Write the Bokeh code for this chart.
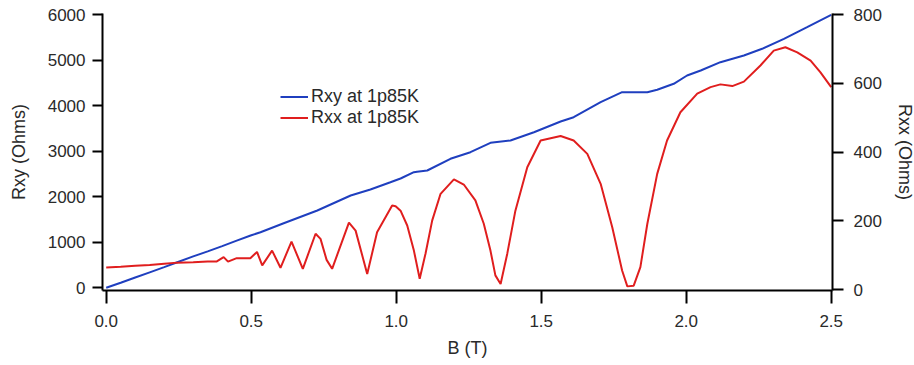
from bokeh.plotting import figure
from bokeh.models import Range1d, LinearAxis, FixedTicker, Legend, LegendItem
from bokeh.embed import file_html
from bokeh.resources import INLINE

# ---- data ----
b_xy = [0.0, 0.05, 0.1, 0.15, 0.2, 0.245, 0.3, 0.35, 0.4, 0.45, 0.498, 0.532,
        0.612, 0.728, 0.843, 0.911, 0.98, 1.015, 1.061, 1.072, 1.107, 1.187,
        1.256, 1.325, 1.394, 1.475, 1.567, 1.612, 1.705, 1.779, 1.866, 1.9,
        1.957, 2.003, 2.05, 2.118, 2.199, 2.262, 2.337, 2.417, 2.5]
rxy = [0, 110, 225, 340, 455, 562, 690, 800, 915, 1035, 1148, 1221,
       1418, 1697, 2026, 2158, 2318, 2400, 2538, 2550, 2575, 2832,
       2977, 3183, 3234, 3416, 3651, 3745, 4075, 4294, 4294, 4347,
       4479, 4661, 4771, 4953, 5100, 5247, 5466, 5721, 5990]

b_xx = [0.0, 0.05, 0.1, 0.15, 0.2, 0.245, 0.3, 0.35, 0.38, 0.405, 0.42, 0.45,
        0.497, 0.52, 0.538, 0.572, 0.601, 0.639, 0.678, 0.722, 0.739, 0.76,
        0.779, 0.837, 0.86, 0.9, 0.934, 0.986, 0.998, 1.015, 1.038, 1.061,
        1.081, 1.101, 1.124, 1.153, 1.199, 1.233, 1.273, 1.302, 1.325, 1.342,
        1.36, 1.383, 1.411, 1.452, 1.498, 1.567, 1.612, 1.659, 1.705, 1.745,
        1.779, 1.797, 1.819, 1.842, 1.866, 1.9, 1.934, 1.98, 2.038, 2.084,
        2.118, 2.159, 2.199, 2.256, 2.302, 2.342, 2.383, 2.429, 2.463, 2.5]
rxx = [65, 67, 70, 72, 76, 79, 80, 82, 82, 95, 82, 92,
       92, 110, 71, 114, 64, 140, 61, 163, 148, 87,
       61, 195, 172, 46, 167, 245, 243, 230, 187, 114,
       32, 105, 201, 279, 321, 306, 260, 192, 114, 42,
       17, 105, 230, 356, 434, 447, 434, 395, 308, 182,
       56, 10, 12, 66, 192, 337, 434, 516, 570, 589,
       597, 592, 605, 652, 695, 705, 690, 666, 632, 589]

x_ticks = [0.0, 0.5, 1.0, 1.5, 2.0, 2.5]
left_ticks = [0, 1000, 2000, 3000, 4000, 5000, 6000]
right_ticks = [0, 200, 400, 600, 800]

FONT = "Liberation Sans"
TXT = "#2a2a2a"
BLUE = "#1f3fbf"
RED = "#e01e1e"

p = figure(width=914, height=365, frame_width=730, frame_height=277,
           min_border_left=102, min_border_right=82, min_border_top=13,
           min_border_bottom=75, output_backend="svg", toolbar_location=None,
           x_range=Range1d(-0.0128, 2.5045), y_range=Range1d(-59, 6022))
p.outline_line_color = None
p.xgrid.visible = False
p.ygrid.visible = False
p.background_fill_color = "white"
p.border_fill_color = "white"

p.extra_y_ranges = {"rxx": Range1d(-2, 803)}

l1 = p.line(b_xy, rxy, line_color=BLUE, line_width=2)
l2 = p.line(b_xx, rxx, line_color=RED, line_width=2, y_range_name="rxx")

right = LinearAxis(y_range_name="rxx")
p.add_layout(right, "right")

def style(ax, ticks, tick_out, standoff, label, lstandoff):
    ax.ticker = FixedTicker(ticks=ticks)
    ax.minor_tick_line_color = None
    ax.major_tick_in = 0
    ax.major_tick_out = tick_out
    ax.major_tick_line_width = 2
    ax.major_tick_line_color = "black"
    ax.axis_line_width = 2
    ax.axis_line_color = "black"
    ax.major_label_text_font = FONT
    ax.major_label_text_font_size = "17px"
    ax.major_label_text_color = TXT
    ax.major_label_standoff = standoff
    ax.axis_label = label
    ax.axis_label_text_font = FONT
    ax.axis_label_text_font_size = "18px"
    ax.axis_label_text_font_style = "normal"
    ax.axis_label_text_color = TXT
    ax.axis_label_standoff = lstandoff

style(p.xaxis[0], x_ticks, 13, 11, "B (T)", 8)
style(p.yaxis[0], left_ticks, 10, 7, "Rxy (Ohms)", 16)
style(right, right_ticks, 11, 10, "Rxx (Ohms)", 10)
p.xaxis[0].major_label_overrides = {t: f"{t:.1f}" for t in x_ticks}

legend = Legend(items=[LegendItem(label="Rxy at 1p85K", renderers=[l1]),
                       LegendItem(label="Rxx at 1p85K", renderers=[l2])],
                location=(178, 162))
legend.background_fill_alpha = 0
legend.border_line_color = None
legend.padding = 0
legend.margin = 0
legend.spacing = 0
legend.glyph_width = 28
legend.glyph_height = 19
legend.label_height = 19
legend.label_standoff = 3
legend.label_text_font = FONT
legend.label_text_font_size = "18px"
legend.label_text_color = TXT
p.add_layout(legend, "center")

open("out.html", "w").write(file_html(p, INLINE))
